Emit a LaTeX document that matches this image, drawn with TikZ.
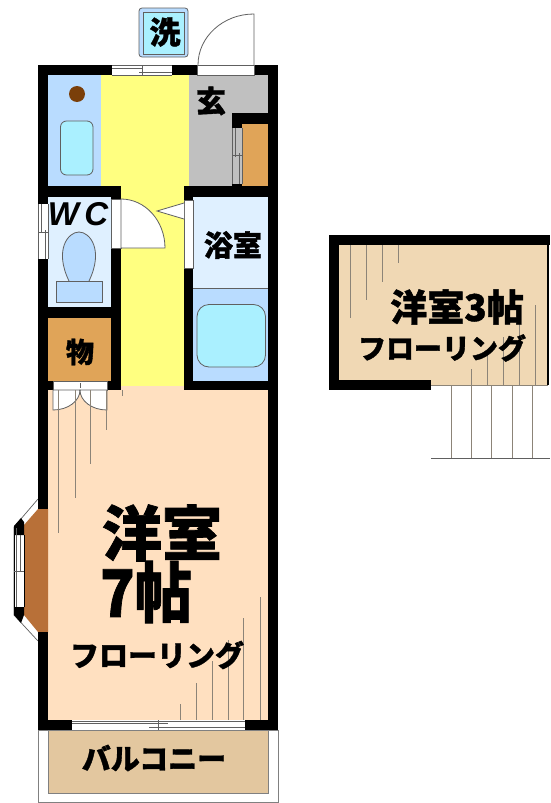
\documentclass[tikz,border=0pt]{standalone}
\usepackage{fontspec}
\newfontfamily\jpfont[BoldFeatures={FakeBold=1.2}]{Noto Sans CJK JP}
\newfontfamily\wcfont{Liberation Sans}
\definecolor{bathblue}{HTML}{B9DCFF}
\definecolor{paleblue}{HTML}{DFF0FF}
\definecolor{tubcyan}{HTML}{AAF0FF}
\definecolor{hallyellow}{HTML}{FFFF80}
\definecolor{genkangray}{HTML}{C0C0C0}
\definecolor{closetorange}{HTML}{E0A458}
\definecolor{roompeach}{HTML}{FFE0C0}
\definecolor{roomtan}{HTML}{F0D8B4}
\definecolor{balconytan}{HTML}{E3C79F}
\definecolor{baybrown}{HTML}{B87038}
\definecolor{drumbrown}{HTML}{7A3F0A}
\definecolor{linegray}{HTML}{606060}
\definecolor{grainline}{HTML}{8C8478}
\tikzset{
  wall/.style={fill=black, draw=none},
  fixture/.style={draw=linegray, line width=0.8pt},
  doorleaf/.style={fill=white, draw=linegray, line width=0.8pt},
  winline/.style={draw=linegray, line width=0.7pt},
  grain/.style={draw=grainline, line width=1pt},
  lbl/.style={font=\jpfont\bfseries\fontsize{#1}{#1}\selectfont, inner sep=0pt}
}
\begin{document}
\begin{tikzpicture}[x=1pt, y=-1pt]
      \useasboundingbox (0,0) rectangle (550,803);

      \fill[bathblue] (48,75) rectangle (101,186);
      \fill[hallyellow] (101,75) rectangle (189,186);
      \fill[hallyellow] (121,186) rectangle (184,390);
      \fill[genkangray] (189,75) rectangle (268,186);
      \fill[closetorange] (242,124) rectangle (268,186);
      \fill[closetorange] (48,318) rectangle (111,381);
      \fill[paleblue] (193,197) rectangle (268,288);
      \fill[bathblue] (193,288) rectangle (268,381);
      \fill[paleblue] (48,197) rectangle (111,307);
      \fill[roompeach] (48,390) rectangle (268,720);
      \fill[roompeach] (121,386) rectangle (184,390);
      \draw[fixture] (193,288) -- (268,288);

      \fill[drumbrown] (77,94) circle (8);
      \draw[fixture, fill=tubcyan, rounded corners=6pt] (60.5,121) rectangle (93,175);
      \draw[fixture, fill=tubcyan, rounded corners=12pt] (197,304.5) rectangle (265.5,367);
      \draw[fixture, fill=bathblue] (69,281) .. controls (54,250) and (68,232) .. (79,232) .. controls (90,232) and (104,250) .. (89,281);
      \draw[fixture, fill=bathblue] (56.5,281) rectangle (102.5,302.5);

      \fill[white, draw=gray, line width=0.8pt] (38,730) rectangle (278,802);
      \draw[fill=balconytan, draw=gray, line width=0.8pt] (48,730) rectangle (268,793);

      % bay window
      \draw[winline, fill=white] (38,499) -- (14,527) -- (14,615) -- (38,641);
      \fill[baybrown] (48,509) -- (38,509) -- (24,525) -- (24,615) -- (38,632) -- (48,632) -- cycle;
      \fill[black] (14,526) -- (21,518) -- (24,522) -- (24,535) -- (14,535) -- cycle;
      \fill[black] (14,607) -- (24,607) -- (24,615) -- (21,623) -- (14,615) -- cycle;
      \draw[line width=0.8pt] (14,535) -- (14,607) (24,535) -- (24,607);
      \draw[winline] (16,528) -- (16,607) (20,535) -- (20,571) (14,571) -- (24,571);

      % walls
      \foreach \xa/\ya/\xb/\yb in {38/65/112/75, 172/65/197/75, 254/65/278/75,
        38/65/48/204, 38/259/48/509, 38/632/48/730, 268/65/278/730,
        38/720/72/730, 245/720/278/730, 38/186/121/197, 184/186/278/197,
        111/186/121/199, 111/248/121/390, 38/307/121/318, 38/381/53/390,
        107/381/121/390, 184/186/193/200, 184/268/193/390, 184/381/278/390,
        232/113/268/124, 232/113/242/128, 232/184/242/186}
        \fill[wall] (\xa,\ya) rectangle (\xb,\yb);

      % windows
      \draw[winline] (112,65) -- (172,65) (112,75) -- (172,75) (112,68) -- (143,68) (139,72) -- (172,72) (142,65) -- (142,75);
      \draw[winline] (72,721) -- (245,721) (72,723) -- (168,723) (149,727) -- (245,727) (158,720) -- (158,730);
      \draw[winline] (38,204) -- (38,259) (48,204) -- (48,259) (41,204) -- (41,232) (45,230) -- (45,259) (38,232) -- (48,232);
      \draw[winline] (232,128) -- (232,184) (242,128) -- (242,184) (235,128) -- (235,157) (239,153) -- (239,184) (232,155) -- (242,155);

      % doors
      \draw[doorleaf] (197,65) rectangle (254,75);
      \draw[linegray, line width=0.8pt] (254,65) -- (254,14) arc[start angle=90, end angle=180, x radius=56, y radius=-51];
      \draw[doorleaf] (111,199) rectangle (121,248);
      \draw[doorleaf] (121,248) -- (121,199) arc[start angle=90, end angle=0, x radius=44, y radius=-49] -- cycle;
      \draw[doorleaf] (184,200) rectangle (193,268);
      \draw[doorleaf] (184,203) -- (157,211) -- (184,219);
      \draw[doorleaf] (53,381) rectangle (107,390);
      \draw[winline] (80,383) -- (80,388);
      \draw[doorleaf] (53,390) -- (53,410) arc[start angle=-90, end angle=0, x radius=27, y radius=-20] -- cycle;
      \draw[doorleaf] (107,390) -- (107,410) arc[start angle=-90, end angle=-180, x radius=27, y radius=-20] -- cycle;

      % floor grain
      \foreach \xp/\yp in {58/533, 75/498, 90.5/464, 106.5/430, 122/396}
        \draw[grain] (\xp,390) -- (\xp,\yp);
      \foreach \xp/\yp in {180.5/704, 196/683, 212.5/661, 228/640, 243.5/618, 260/597}
        \draw[grain] (\xp,720) -- (\xp,\yp);

      % upper floor room
      \fill[roomtan] (339,245) rectangle (548,385);
      \fill[wall] (329,235) rectangle (550,245);
      \fill[wall] (329,235) rectangle (339,390);
      \fill[wall] (329,380) rectangle (431,390);
      \draw[line width=1.5pt] (548,245) -- (548,385);
      \draw[grain] (431,385) -- (548,385);
      \foreach \xp/\yp in {350/318, 366.5/300, 382/282, 398.5/263}
        \draw[grain] (\xp,245) -- (\xp,\yp);
      \foreach \xp/\yp in {471.6/369, 487/354, 503/337, 519.5/322, 535/305}
        \draw[grain] (\xp,385) -- (\xp,\yp);
      \foreach \xp in {451, 471.6, 491.6, 512, 532}
        \draw[grain] (\xp,385) -- (\xp,458);
      \draw[linegray, line width=0.6pt] (431,458) -- (550,458);

      % washer
      \draw[draw=linegray, fill=bathblue, line width=0.8pt, rounded corners=3pt] (139,8) rectangle (188,57);
      \draw[draw=linegray, fill=tubcyan, line width=0.6pt] (143,12) rectangle (184,54);

      \node[lbl=31] (washer) at (165,32) {洗};
      \node[lbl=30] (genkan) at (211,101) {玄};
      \node[inner sep=0pt, font=\wcfont\bfseries\itshape\fontsize{33}{33}\selectfont] (wc) at (78,214) {W\,C};
      \node[lbl=29] (bath) at (233,245) {浴室};
      \node[lbl=28] (storage) at (80,352) {物};
      \node[lbl=60] (mainroom) at (162,533) {洋室};
      \node[lbl=57, yscale=1.15] (mainsize) at (146,592) {7帖};
      \node[lbl=29] (mainfloor) at (157,655) {フローリング};
      \node[lbl=29] (balcony) at (154,758) {バルコニー};
      \node[lbl=37] (upperroom) at (457,307) {洋室3帖};
      \node[lbl=28] (upperfloor) at (442,348) {フローリング};
\end{tikzpicture}
\end{document}
